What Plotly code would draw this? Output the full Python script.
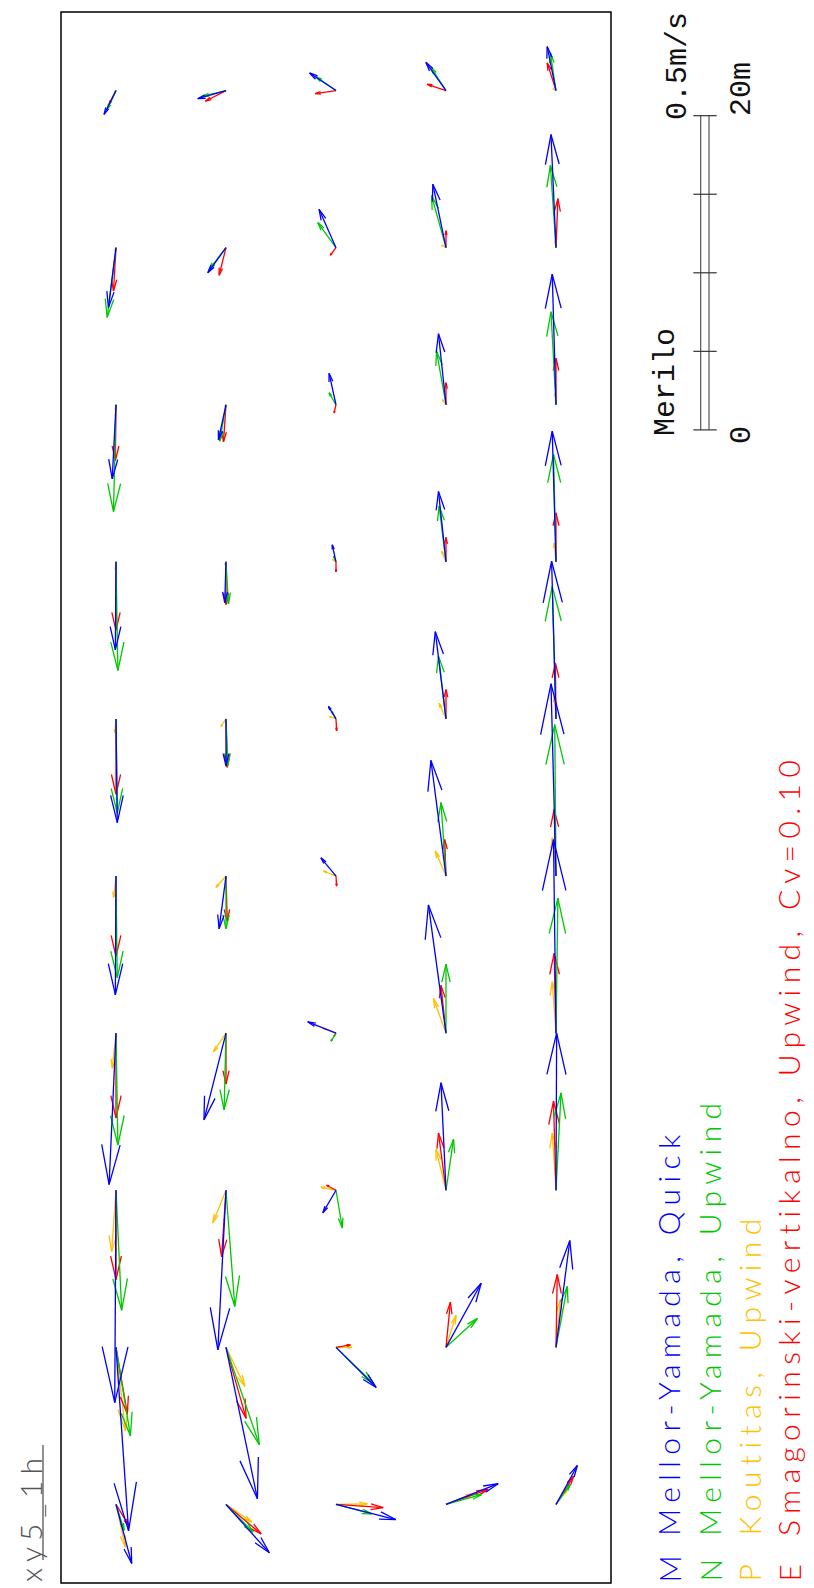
import numpy as np
import plotly.graph_objects as go

# Grid of the velocity field (m): across the basin (left->right) and along it (bottom->top)
x_cols = [3.5, 10.5, 17.5, 24.5, 31.5]
y_rows = [95, 85, 75, 65, 55, 45, 35, 25, 15, 5]

# Velocity components (m/s); rows follow y_rows, columns follow x_cols
u_my_quick = [
    [-0.019, -0.045, -0.042, -0.032, -0.014],
    [-0.012, -0.029, -0.027, -0.021, -0.008],
    [-0.006, -0.012, -0.011, -0.012, -0.006],
    [-0.001, -0.002, -0.006, -0.012, -0.006],
    [0.002, 0.000, -0.012, -0.017, -0.007],
    [-0.001, -0.011, -0.024, -0.024, -0.008],
    [-0.011, -0.035, -0.045, -0.028, -0.004],
    [-0.002, -0.013, -0.021, -0.008, 0.001],
    [0.020, 0.050, 0.064, 0.056, 0.022],
    [0.025, 0.069, 0.095, 0.083, 0.034],
]
v_my_quick = [
    [-0.038, -0.013, 0.028, 0.045, 0.070],
    [-0.095, -0.040, 0.061, 0.101, 0.180],
    [-0.118, -0.056, 0.050, 0.113, 0.208],
    [-0.140, -0.065, 0.027, 0.112, 0.208],
    [-0.165, -0.075, 0.020, 0.139, 0.251],
    [-0.189, -0.084, 0.029, 0.184, 0.306],
    [-0.241, -0.138, 0.018, 0.204, 0.308],
    [-0.338, -0.254, -0.036, 0.171, 0.250],
    [-0.292, -0.241, -0.064, 0.102, 0.170],
    [-0.094, -0.077, -0.024, 0.033, 0.062],
]
u_my_upwind = [
    [-0.014, -0.037, -0.032, -0.024, -0.009],
    [-0.014, -0.027, -0.029, -0.023, -0.009],
    [-0.004, -0.010, -0.011, -0.015, -0.008],
    [0.003, 0.004, -0.004, -0.011, -0.004],
    [0.002, 0.003, -0.007, -0.012, -0.006],
    [0.002, 0.000, -0.003, -0.008, -0.002],
    [0.003, -0.003, -0.008, 0.000, 0.003],
    [0.009, 0.014, 0.010, 0.012, 0.008],
    [0.023, 0.053, 0.060, 0.050, 0.018],
    [0.013, 0.043, 0.057, 0.057, 0.023],
]
v_my_upwind = [
    [-0.030, -0.009, 0.022, 0.037, 0.060],
    [-0.111, -0.035, 0.040, 0.083, 0.131],
    [-0.170, -0.058, 0.019, 0.085, 0.148],
    [-0.173, -0.067, 0.009, 0.089, 0.171],
    [-0.150, -0.074, 0.012, 0.100, 0.211],
    [-0.162, -0.084, 0.003, 0.117, 0.241],
    [-0.178, -0.122, -0.013, 0.110, 0.215],
    [-0.191, -0.185, -0.060, 0.081, 0.155],
    [-0.141, -0.155, -0.058, 0.046, 0.097],
    [-0.041, -0.044, -0.015, 0.016, 0.032],
]
u_koutitas = [
    [-0.002, -0.002, -0.002, -0.003, -0.005],
    [-0.002, -0.002, -0.002, -0.007, -0.002],
    [-0.001, -0.002, -0.002, -0.006, -0.002],
    [-0.001, -0.002, -0.006, -0.007, -0.003],
    [-0.002, -0.008, -0.011, -0.011, -0.003],
    [-0.004, -0.016, -0.020, -0.017, -0.006],
    [-0.006, -0.020, -0.021, -0.020, -0.006],
    [-0.007, -0.021, -0.024, -0.016, -0.006],
    [0.015, 0.030, 0.025, 0.016, 0.007],
    [0.015, 0.041, 0.050, 0.043, 0.018],
]
v_koutitas = [
    [-0.003, -0.002, 0.002, 0.000, 0.003],
    [-0.005, -0.002, 0.000, 0.004, 0.011],
    [-0.008, -0.003, 0.002, 0.008, 0.019],
    [-0.012, -0.005, 0.004, 0.017, 0.030],
    [-0.022, -0.012, 0.004, 0.025, 0.036],
    [-0.034, -0.018, 0.008, 0.040, 0.061],
    [-0.056, -0.030, 0.008, 0.055, 0.082],
    [-0.098, -0.052, 0.005, 0.065, 0.091],
    [-0.133, -0.062, 0.000, 0.051, 0.076],
    [-0.068, -0.028, 0.001, 0.017, 0.024],
]
u_smag = [
    [-0.011, -0.033, -0.033, -0.030, -0.014],
    [-0.004, -0.011, -0.009, 0.000, 0.003],
    [-0.001, -0.004, -0.003, 0.000, 0.000],
    [0.000, 0.000, 0.000, 0.000, 0.000],
    [0.000, 0.002, 0.001, 0.000, -0.001],
    [0.000, 0.002, 0.001, -0.002, -0.003],
    [0.000, 0.000, -0.003, -0.008, -0.003],
    [0.000, -0.007, -0.015, -0.012, -0.004],
    [0.018, 0.032, 0.023, 0.007, 0.002],
    [0.020, 0.056, 0.075, 0.067, 0.028],
]
v_smag = [
    [-0.022, -0.017, -0.005, 0.010, 0.044],
    [-0.069, -0.044, -0.012, 0.027, 0.078],
    [-0.089, -0.059, -0.013, 0.035, 0.074],
    [-0.109, -0.068, -0.016, 0.039, 0.078],
    [-0.120, -0.077, -0.019, 0.047, 0.089],
    [-0.128, -0.072, -0.016, 0.058, 0.106],
    [-0.135, -0.081, -0.005, 0.076, 0.127],
    [-0.142, -0.106, 0.008, 0.091, 0.142],
    [-0.106, -0.113, 0.004, 0.072, 0.116],
    [-0.033, -0.047, -0.005, 0.024, 0.045],
]

series_codes = ["M", "N", "P", "E"]
series_names = [
    "Mellor-Yamada, Quick",
    "Mellor-Yamada, Upwind",
    "Koutitas, Upwind",
    "Smagorinski-vertikalno, Upwind, Cv=0.10",
]
series_colors = ["#0000ff", "#00c800", "#ffc000", "#ff0000"]
series_u = [u_my_quick, u_my_upwind, u_koutitas, u_smag]
series_v = [v_my_quick, v_my_upwind, v_koutitas, v_smag]

# Scale: 0.5 m/s is drawn as long as 20 m of the basin
speed_ref = 0.5
length_ref = 20.0
scale_ticks = [0, 5, 10, 15, 20]
scale_base = 73.4

DOMAIN_X = [0, 35]
DOMAIN_Y = [0, 100]

SCALE = length_ref / speed_ref
HEAD_FRAC = 0.27
HEAD_ANG = np.radians(13)


def arrow_paths(u, v):
    xs, ys = [], []
    for i, y0 in enumerate(y_rows):
        for j, x0 in enumerate(x_cols):
            dx = u[i][j] * SCALE
            dy = v[i][j] * SCALE
            length = float(np.hypot(dx, dy))
            x1, y1 = x0 + dx, y0 + dy
            xs += [x0, x1, None]
            ys += [y0, y1, None]
            if length > 0:
                back = np.arctan2(dy, dx) + np.pi
                h = HEAD_FRAC * length
                xs += [x1 + h * np.cos(back + HEAD_ANG), x1, x1 + h * np.cos(back - HEAD_ANG), None]
                ys += [y1 + h * np.sin(back + HEAD_ANG), y1, y1 + h * np.sin(back - HEAD_ANG), None]
    return xs, ys


fig = go.Figure()
for k in [2, 3, 1, 0]:
    xs, ys = arrow_paths(series_u[k], series_v[k])
    fig.add_trace(go.Scatter(
        x=xs, y=ys, mode="lines",
        line=dict(color=series_colors[k], width=1.3),
        hoverinfo="skip", showlegend=False,
    ))

W, H = 814, 1588
ML, MR, MT, MB = 61, 203, 12, 5
pw, ph = W - ML - MR, H - MT - MB


def px_x(px):
    return (px - ML) / pw


def px_y(py):
    return (H - MB - py) / ph


shapes = [dict(type="rect", xref="paper", yref="paper", x0=0, x1=1, y0=0, y1=1,
               line=dict(color="#000000", width=1.5))]
# scale bar (double rail with quarter ticks)
for xr in (700.7, 709.0):
    shapes.append(dict(type="line", xref="paper", yref="y", x0=px_x(xr), x1=px_x(xr),
                       y0=scale_base, y1=scale_base + length_ref,
                       line=dict(color="#555555", width=1.2)))
for t in scale_ticks:
    shapes.append(dict(type="line", xref="paper", yref="y", x0=px_x(693.3), x1=px_x(716.7),
                       y0=scale_base + t, y1=scale_base + t,
                       line=dict(color="#333333", width=1.2)))
# underline of the run label
shapes.append(dict(type="line", xref="paper", yref="paper", x0=px_x(43), x1=px_x(43),
                   y0=px_y(1560), y1=px_y(1445), line=dict(color="#555555", width=1.3)))

annotations = []
mono = dict(family="Liberation Mono, Courier New, monospace", size=30, color="#111111")
for text, cx, cy in [("0.5m/s", 678, 66), ("20m", 742, 89), ("0", 742, 435), ("Merilo", 666, 382)]:
    annotations.append(dict(text=text, xref="paper", yref="paper", x=px_x(cx), y=px_y(cy),
                            xanchor="center", yanchor="middle", textangle=-90,
                            showarrow=False, font=mono))

legend_x = [668, 709, 748, 788]
legend_font = "Lato, DejaVu Sans, sans-serif"
for k in range(4):
    lf = dict(family=legend_font, size=30, weight=300, color=series_colors[k])
    annotations.append(dict(
        text=series_codes[k], xref="paper", yref="paper", x=px_x(legend_x[k]), y=0,
        xanchor="center", yanchor="bottom", textangle=-90, showarrow=False,
        borderpad=0, font=lf))
    annotations.append(dict(
        text=f'<span style="letter-spacing:6.4px">{series_names[k]}</span>',
        xref="paper", yref="paper", x=px_x(legend_x[k]), y=px_y(1537),
        xanchor="center", yanchor="bottom", textangle=-90, showarrow=False,
        borderpad=0, font=lf))

annotations.append(dict(
    text='<span style="letter-spacing:6px">xy5_1h</span>', xref="paper", yref="paper",
    x=px_x(30), y=0, xanchor="center", yanchor="bottom", textangle=-90, showarrow=False,
    borderpad=0, font=dict(family=legend_font, size=30, weight=300, color="#555555")))

fig.update_layout(
    width=W, height=H,
    margin=dict(l=ML, r=MR, t=MT, b=MB, pad=0),
    paper_bgcolor="#ffffff", plot_bgcolor="#ffffff",
    xaxis=dict(range=DOMAIN_X, visible=False, fixedrange=True),
    yaxis=dict(range=DOMAIN_Y, visible=False, fixedrange=True),
    shapes=shapes, annotations=annotations,
)
fig.write_html("out.html")
